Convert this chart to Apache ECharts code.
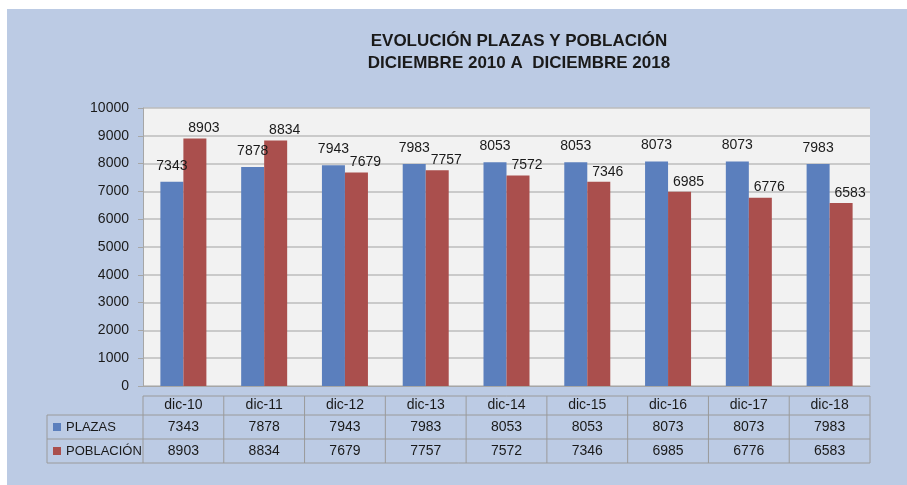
<!DOCTYPE html>
<html>
<head>
<meta charset="utf-8">
<script src="https://cdn.jsdelivr.net/npm/echarts@6/dist/echarts.min.js"></script>
<style>
  html, body { margin: 0; padding: 0; background: #fff; }
  #main { position: absolute; left: 7px; top: 9px; width: 900px; height: 476px; }
</style>
</head>
<body>
<div id="main"></div>
<script>
// datos
var categorias = ["dic-10", "dic-11", "dic-12", "dic-13", "dic-14", "dic-15", "dic-16", "dic-17", "dic-18"];
var plazas = [7343, 7878, 7943, 7983, 8053, 8053, 8073, 8073, 7983];
var poblacion = [8903, 8834, 7679, 7757, 7572, 7346, 6985, 6776, 6583];
var nombres = ["PLAZAS", "POBLACIÓN"];
var colores = ["#5b7fbd", "#aa4f4d"];

var chart = echarts.init(document.getElementById('main'));

var option = {
    backgroundColor: "#bccbe4",
    animation: false,
    title: {
        text: "EVOLUCIÓN PLAZAS Y POBLACIÓN\nDICIEMBRE 2010 A  DICIEMBRE 2018",
        left: 507,
        top: 16,
        textAlign: "center",
        textStyle: {
            fontFamily: "Liberation Sans",
            fontWeight: "bold",
            fontSize: 17,
            lineHeight: 22,
            color: "#1a1a1a"
        }
    },
    grid: {
        left: 136,
        right: 37,
        top: 99,
        bottom: 99,
        show: true,
        backgroundColor: "#f2f2f2",
        borderWidth: 0
    },
    xAxis: {
        type: "category",
        data: categorias,
        axisLine: { lineStyle: { color: "#a6a6a6", width: 1 } },
        axisTick: { show: false },
        axisLabel: { show: false }
    },
    yAxis: {
        type: "value",
        min: 0,
        max: 10000,
        interval: 1000,
        axisLine: { show: true, lineStyle: { color: "#a6a6a6", width: 1 } },
        axisTick: { show: true, length: 5, lineStyle: { color: "#a6a6a6" } },
        axisLabel: {
            margin: 14,
            formatter: function (v) { return String(v); },
            fontFamily: "Liberation Sans",
            fontSize: 14,
            color: "#1a1a1a"
        },
        splitLine: { lineStyle: { color: "#bdbdbd", width: 1.5 } }
    },
    series: [
        {
            name: nombres[0],
            type: "bar",
            data: plazas,
            barWidth: 23,
            barGap: "0%",
            itemStyle: { color: colores[0] },
            label: {
                show: true,
                position: "top",
                distance: 9,
                fontFamily: "Liberation Sans",
                fontSize: 14,
                color: "#1a1a1a"
            }
        },
        {
            name: nombres[1],
            type: "bar",
            data: poblacion,
            barWidth: 23,
            itemStyle: { color: colores[1] },
            label: {
                show: true,
                position: "top",
                distance: 3,
                offset: [9, 0],
                fontFamily: "Liberation Sans",
                fontSize: 14,
                color: "#1a1a1a"
            }
        }
    ]
};
chart.setOption(option);

// tabla de datos bajo el grafico
function dibujarTabla() {
    var borde = "#9a9a9a";
    var x0 = chart.convertToPixel({ xAxisIndex: 0 }, 0);
    var x1 = chart.convertToPixel({ xAxisIndex: 0 }, 1);
    var ancho = x1 - x0;
    var izq = x0 - ancho / 2;
    var der = izq + ancho * categorias.length;
    var filas = [387, 406, 430, 454];
    var legIzq = 40;
    var els = [];
    var estilo = { fontFamily: "Liberation Sans", fontSize: 14, fill: "#1a1a1a" };

    // lineas horizontales
    els.push({ type: "line", shape: { x1: izq, y1: filas[0], x2: der, y2: filas[0] }, style: { stroke: borde, lineWidth: 1 } });
    for (var r = 1; r < filas.length; r++) {
        els.push({ type: "line", shape: { x1: legIzq, y1: filas[r], x2: der, y2: filas[r] }, style: { stroke: borde, lineWidth: 1 } });
    }
    // lineas verticales
    els.push({ type: "line", shape: { x1: legIzq, y1: filas[1], x2: legIzq, y2: filas[3] }, style: { stroke: borde, lineWidth: 1 } });
    for (var c = 0; c <= categorias.length; c++) {
        var xx = izq + ancho * c;
        els.push({ type: "line", shape: { x1: xx, y1: filas[0], x2: xx, y2: filas[3] }, style: { stroke: borde, lineWidth: 1 } });
    }
    // textos
    var valores = [plazas, poblacion];
    categorias.forEach(function (cat, i) {
        var cx = izq + ancho * (i + 0.5);
        els.push({ type: "text", style: echarts.util.extend({ text: cat, x: cx, y: (filas[0] + filas[1]) / 2, align: "center", verticalAlign: "middle" }, estilo) });
        for (var s = 0; s < 2; s++) {
            els.push({ type: "text", style: echarts.util.extend({ text: String(valores[s][i]), x: cx, y: (filas[s + 1] + filas[s + 2]) / 2, align: "center", verticalAlign: "middle" }, estilo) });
        }
    });
    // leyenda
    for (var k = 0; k < 2; k++) {
        var cy = (filas[k + 1] + filas[k + 2]) / 2;
        els.push({ type: "rect", shape: { x: legIzq + 6, y: cy - 4, width: 8, height: 8 }, style: { fill: colores[k] } });
        els.push({ type: "text", style: { text: nombres[k], x: legIzq + 19, y: cy, align: "left", verticalAlign: "middle", fontFamily: "Liberation Sans", fontSize: 13, fill: "#1a1a1a" } });
    }
    chart.setOption({ graphic: { elements: els } });
}
dibujarTabla();
</script>
</body>
</html>
